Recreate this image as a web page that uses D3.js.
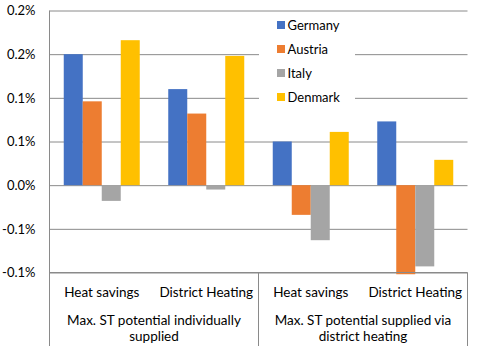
<!DOCTYPE html>
<html>
<head>
<meta charset="utf-8">
<script src="https://cdn.jsdelivr.net/npm/d3@7"></script>
<style>
  html, body { margin: 0; padding: 0; background: #fff; }
  svg { display: block; font-family: Lato, "Open Sans", sans-serif; }
</style>
</head>
<body>
<svg id="chart" width="502" height="346"></svg>
<script>
// Categories (inner level) and their groups (outer level)
const categories = ["Heat savings", "District Heating", "Heat savings", "District Heating"];
const groups = [
  { lines: ["Max. ST potential individually", "supplied"], span: [0, 1] },
  { lines: ["Max. ST potential supplied via", "district heating"], span: [2, 3] }
];
const seriesNames = ["Germany", "Austria", "Italy", "Denmark"];
const seriesColors = ["#4472C4", "#ED7D31", "#A5A5A5", "#FFC000"];

// Values in percent, one array per country, ordered as the categories
const germany = [0.150, 0.110, 0.050, 0.073];
const austria = [0.096, 0.082, -0.034, -0.102];
const italy   = [-0.018, -0.005, -0.063, -0.093];
const denmark = [0.166, 0.148, 0.061, 0.029];
const seriesValues = [germany, austria, italy, denmark];

// Axis ticks and their printed labels (one decimal place)
const tickValues = [0.2, 0.15, 0.1, 0.05, 0, -0.05, -0.1];
const tickLabels = ["0.2%", "0.2%", "0.1%", "0.1%", "0.0%", "-0.1%", "-0.1%"];

(function draw() {
  const svg = d3.select("#chart");
  const H = 346;
  const plotLeft = 49.5, plotRight = 467.5, plotTop = 10.5, plotBottom = 272.5;
  const gridColor = "#8a8a8a";
  const textColor = "#000";
  const labelSize = "13.5px";

  const y = d3.scaleLinear().domain([-0.1, 0.2]).range([plotBottom, plotTop]);
  const x0 = d3.scaleBand().domain(d3.range(categories.length)).range([plotLeft, plotRight]).padding(0);
  const x1 = d3.scaleBand().domain(d3.range(seriesNames.length))
    .range([0, x0.bandwidth()]).paddingInner(0).paddingOuter(0.75);

  // Gridlines + tick labels
  const yAxis = d3.axisLeft(y)
    .tickValues(tickValues)
    .tickSize(-(plotRight - plotLeft))
    .tickPadding(14)
    .tickFormat((d, i) => tickLabels[i]);
  const ga = svg.append("g").attr("transform", `translate(${plotLeft},0)`).call(yAxis);
  ga.select(".domain").remove();
  ga.selectAll(".tick line").attr("stroke", gridColor).attr("stroke-width", 1);
  ga.selectAll(".tick text").attr("fill", textColor).style("font-size", "13px")
    .style("font-family", "Lato, 'Open Sans', sans-serif");

  // Bars
  seriesValues.forEach((vals, s) => {
    svg.append("g").selectAll("rect").data(vals).join("rect")
      .attr("x", (d, i) => x0(i) + x1(s))
      .attr("width", x1.bandwidth())
      .attr("y", d => Math.min(y(d), y(0)))
      .attr("height", d => Math.abs(y(d) - y(0)))
      .attr("fill", seriesColors[s]);
  });

  // Category axis frame: left axis, group separators and right edge run to the bottom
  svg.append("line").attr("x1", plotLeft).attr("x2", plotLeft).attr("y1", plotTop).attr("y2", H)
    .attr("stroke", gridColor);
  svg.append("line").attr("x1", plotLeft).attr("x2", plotRight).attr("y1", plotBottom).attr("y2", plotBottom)
    .attr("stroke", gridColor);
  groups.forEach(g => {
    const xe = x0(g.span[1]) + x0.bandwidth();
    svg.append("line").attr("x1", xe).attr("x2", xe).attr("y1", plotBottom).attr("y2", H)
      .attr("stroke", gridColor);
  });

  // Category labels
  svg.append("g").selectAll("text").data(categories).join("text")
    .attr("x", (d, i) => x0(i) + x0.bandwidth() / 2)
    .attr("y", 292)
    .attr("dy", "0.35em")
    .attr("text-anchor", "middle")
    .attr("fill", textColor)
    .style("font-size", labelSize)
    .text(d => d);

  // Group labels
  groups.forEach(g => {
    const cx = (x0(g.span[0]) + x0(g.span[1]) + x0.bandwidth()) / 2;
    g.lines.forEach((ln, k) => {
      svg.append("text")
        .attr("x", cx)
        .attr("y", 320 + k * 16.7)
        .attr("dy", "0.35em")
        .attr("text-anchor", "middle")
        .attr("fill", textColor)
        .style("font-size", labelSize)
        .text(ln);
    });
  });

  // Legend on a white box over the gridlines
  const legend = svg.append("g");
  legend.append("rect").attr("x", 259).attr("y", 13).attr("width", 96).attr("height", 96)
    .attr("fill", "#fff");
  seriesNames.forEach((name, i) => {
    const cy = 25 + i * 24;
    legend.append("rect").attr("x", 277).attr("y", cy - 4).attr("width", 8).attr("height", 8)
      .attr("fill", seriesColors[i]);
    legend.append("text").attr("x", 287.5).attr("y", cy).attr("dy", "0.35em")
      .attr("fill", textColor).style("font-size", "13px").text(name);
  });
})();
</script>
</body>
</html>
